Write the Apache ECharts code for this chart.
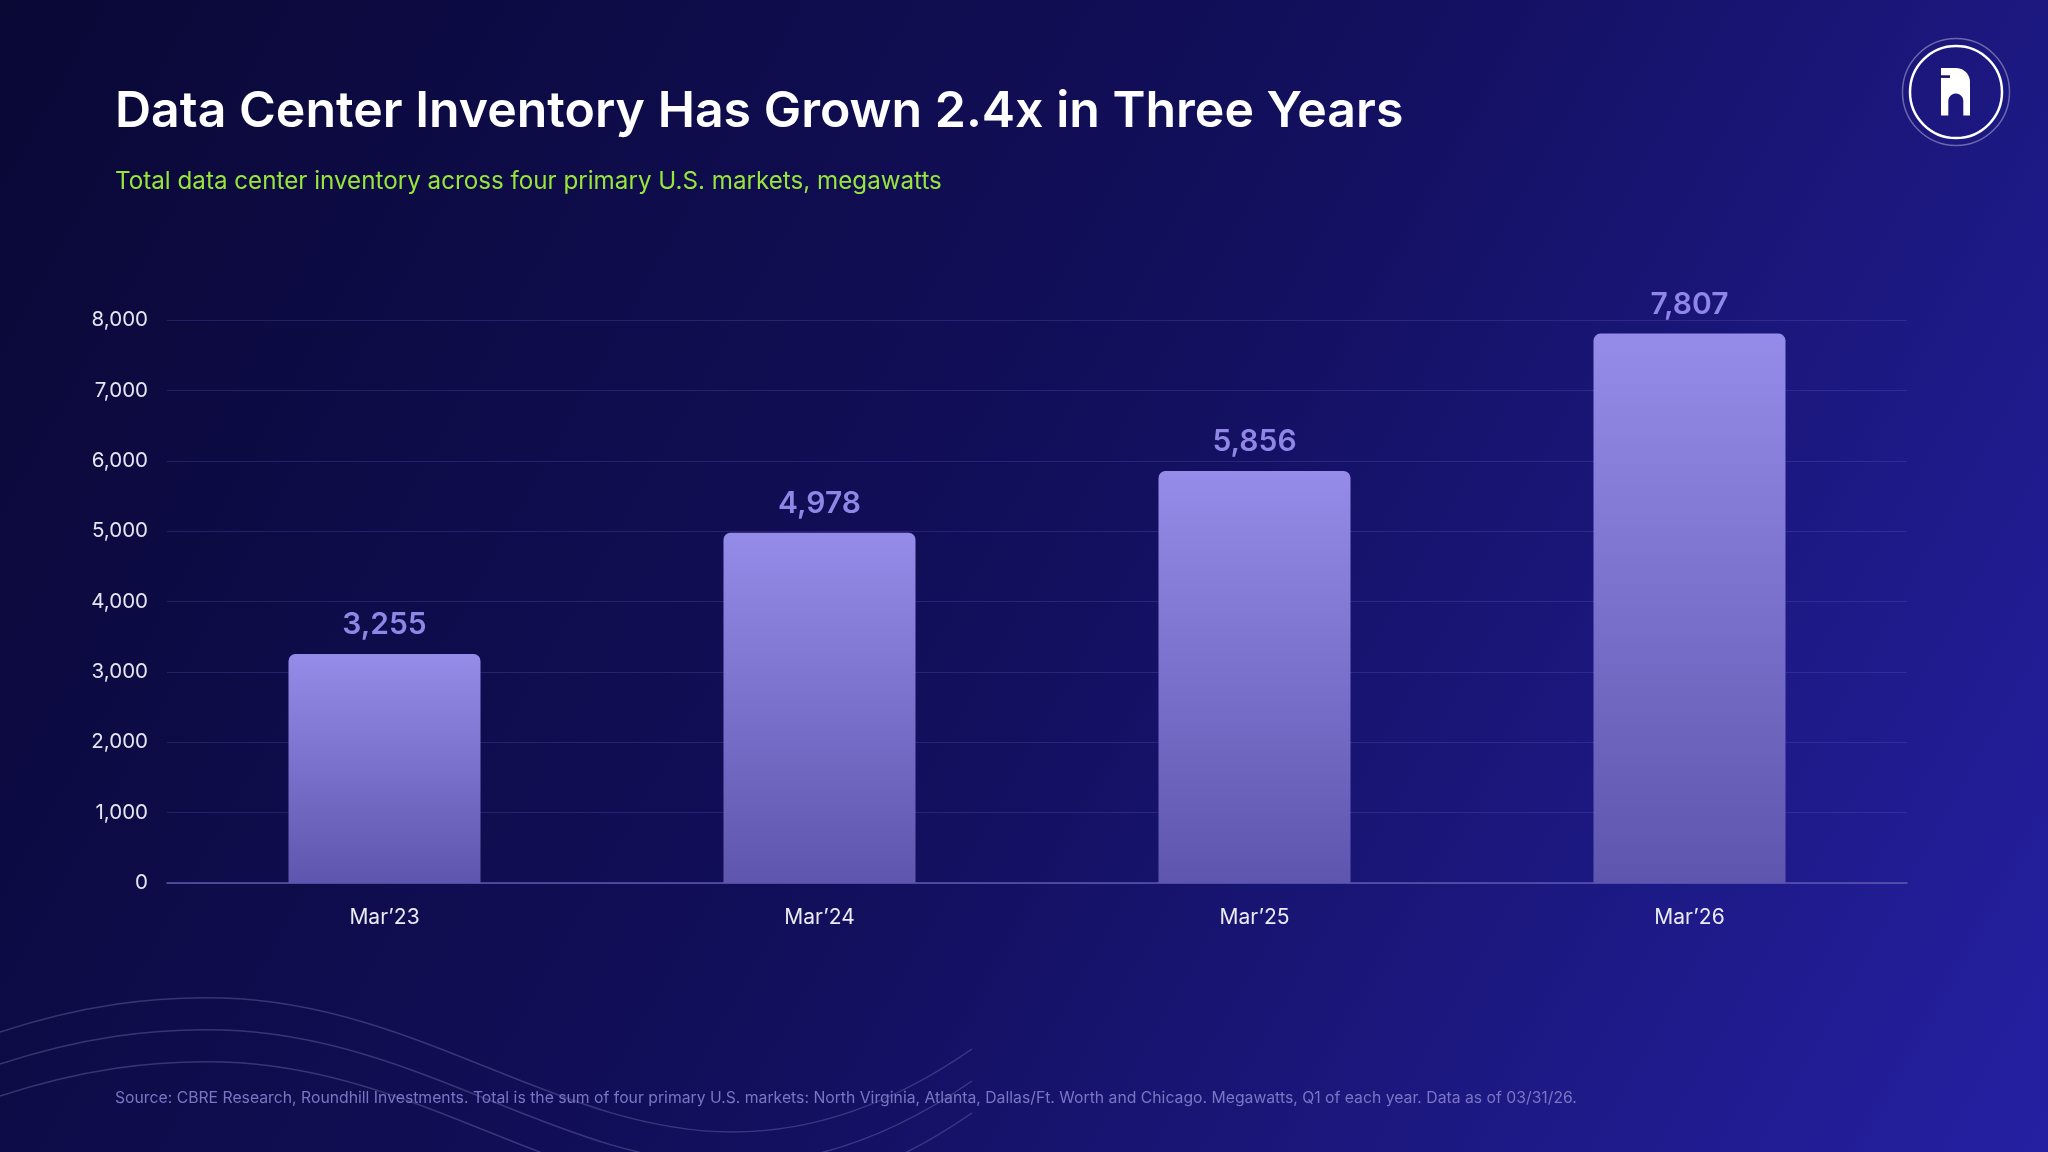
<!DOCTYPE html>
<html>
<head>
<meta charset="utf-8">
<script src="https://cdn.jsdelivr.net/npm/echarts@6/dist/echarts.min.js"></script>
<style>
html,body{margin:0;padding:0;width:2048px;height:1152px;overflow:hidden;background:#0b0a3a;}
#chart{width:2048px;height:1152px;}
</style>
</head>
<body>
<div id="chart"></div>
<script>
const categories = ["Mar\u201923", "Mar\u201924", "Mar\u201925", "Mar\u201926"];
const inventoryMW = [3255, 4978, 5856, 7807];
const yAxisMax = 8000;
const yAxisStep = 1000;
const titleText = "Data Center Inventory Has Grown 2.4x in Three Years";
const subtitleText = "Total data center inventory across four primary U.S. markets, megawatts";
const sourceText = "Source: CBRE Research, Roundhill Investments. Total is the sum of four primary U.S. markets: North Virginia, Atlanta, Dallas/Ft. Worth and Chicago. Megawatts, Q1 of each year. Data as of 03/31/26.";

const fmt = v => v.toLocaleString('en-US');
const chart = echarts.init(document.getElementById('chart'), null, {renderer:'canvas'});

function waveSeg(a){ return {type:'bezierCurve',silent:true,z:0,shape:a,style:{stroke:'rgba(160,160,210,0.28)',lineWidth:1.5,fill:null}}; }
const waves = [];
[0,32,64].forEach(dy=>{
  waves.push(waveSeg({x1:0,y1:1032+dy,cpx1:80,cpy1:1006+dy,cpx2:150,cpy2:996+dy,x2:223,y2:998+dy}));
  waves.push(waveSeg({x1:223,y1:998+dy,cpx1:420,cpy1:1004+dy,cpx2:560,cpy2:1132+dy,x2:733,y2:1132+dy}));
  waves.push(waveSeg({x1:733,y1:1132+dy,cpx1:830,cpy1:1132+dy,cpx2:910,cpy2:1092+dy,x2:972,y2:1049+dy}));
});

// logo glyph outline (decorative)
function arcPts(cx, cy, r, a0, a1, n){
  const pts=[]; for(let i=0;i<=n;i++){const a=a0+(a1-a0)*i/n; pts.push([cx+r*Math.cos(a), cy+r*Math.sin(a)]);} return pts;
}
const gx=1941, gy=68;
const glyph = [[gx,gy],[gx+15,gy]]
  .concat(arcPts(gx+15,gy+14,14,-Math.PI/2,0,10))
  .concat([[gx+29,gy+47.5],[gx+22.3,gy+47.5],[gx+22.3,gy+33]])
  .concat(arcPts(gx+14.8,gy+33,7.5,0,-Math.PI,12))
  .concat([[gx+7.3,gy+47.5],[gx,gy+47.5]]);

const option = {
  backgroundColor: {
    type:'linear', x:0, y:0, x2:1, y2:1,
    colorStops:[{offset:0,color:'#0a0835'},{offset:0.5,color:'#120f5c'},{offset:1,color:'#2520a2'}]
  },
  textStyle:{fontFamily:'Inter, "Noto Sans", sans-serif'},
  grid:{left:167, right:141, top:320, bottom:269, containLabel:false},
  xAxis:{
    type:'category', data:categories,
    axisLine:{show:true,lineStyle:{color:'#5d58ae',width:1.5}},
    axisTick:{show:false},
    axisLabel:{color:'#ecebf5',fontSize:21,lineHeight:22,margin:24,fontFamily:'Inter, sans-serif'}
  },
  yAxis:{
    type:'value', min:0, max:yAxisMax, interval:yAxisStep,
    axisLine:{show:false}, axisTick:{show:false},
    splitLine:{lineStyle:{color:'rgba(120,110,220,0.22)',width:1}},
    axisLabel:{color:'#e6e5f2',fontSize:20.5,margin:19,formatter:v=>fmt(v),fontFamily:'Inter, sans-serif'}
  },
  series:[{
    type:'bar', data:inventoryMW, barWidth:192,
    itemStyle:{
      borderRadius:[7,7,0,0],
      color:{type:'linear',x:0,y:0,x2:0,y2:1,colorStops:[{offset:0,color:'#958ce9'},{offset:1,color:'#5e55ae'}]}
    },
    label:{show:true,position:'top',distance:14,color:'#8f86e6',fontSize:30,fontWeight:600,lineHeight:30,
      fontFamily:'Inter, sans-serif',formatter:p=>fmt(p.value)},
    emphasis:{disabled:true}
  }],
  graphic:[
    ...waves,
    {type:'text',left:115,top:87,silent:true,style:{text:titleText,fill:'#ffffff',fontSize:50,fontWeight:600,fontFamily:'Inter, sans-serif'}},
    {type:'text',left:115,top:170,silent:true,style:{text:subtitleText,fill:'#98e63c',fontSize:24.2,fontWeight:400,fontFamily:'Inter, sans-serif'}},
    {type:'text',left:115,top:1090,silent:true,style:{text:sourceText,fill:'#7a76c4',fontSize:15.75,fontFamily:'Inter, sans-serif'}},
    {type:'circle',silent:true,shape:{cx:1956,cy:92,r:53.5},style:{fill:null,stroke:'rgba(255,255,255,0.35)',lineWidth:1.5}},
    {type:'circle',silent:true,shape:{cx:1956,cy:92,r:46},style:{fill:null,stroke:'#ffffff',lineWidth:2.5}},
    {type:'polygon',silent:true,shape:{points:glyph},style:{fill:'#ffffff'}},
    {type:'rect',silent:true,z:101,shape:{x:1940,y:75.3,width:10,height:2.6},style:{fill:'#15125e'}}
  ]
};
chart.setOption(option);
</script>
</body>
</html>
